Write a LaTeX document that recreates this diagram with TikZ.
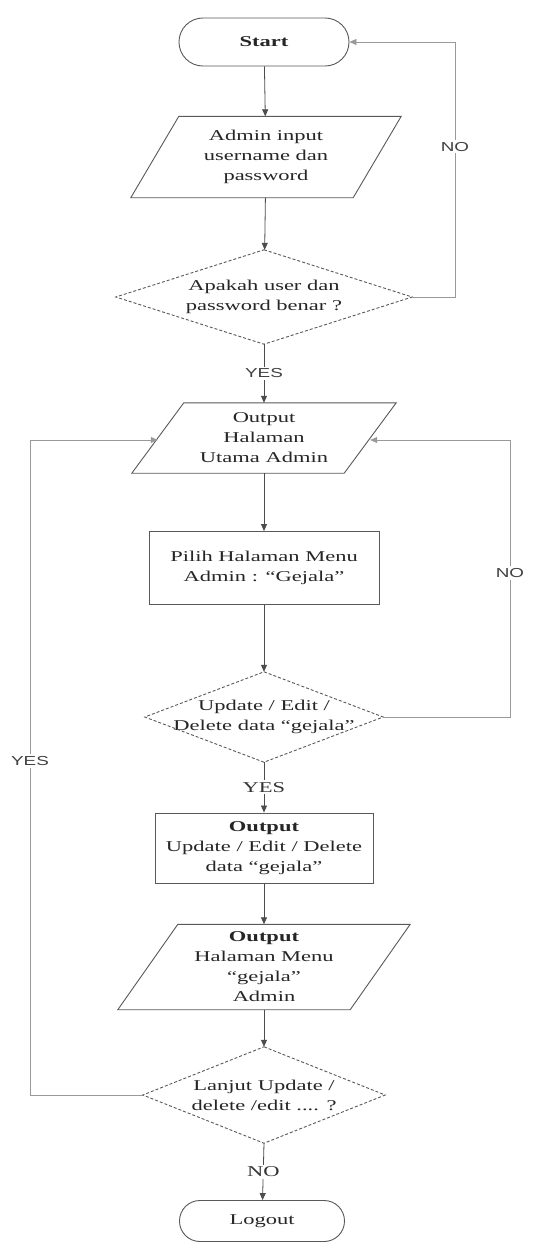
\documentclass[tikz,border=0pt]{standalone}
\usepackage{fontspec}
\setmainfont{Liberation Serif}[FakeStretch=1.5]
\setsansfont{Liberation Sans}[FakeStretch=1.45]
\usetikzlibrary{arrows.meta,calc}
\newcommand\drawpara[2]{%
  \draw[shapeline] ($(#1.north west)+(#2/2,0)$) -- ($(#1.north east)+(#2/2,0)$)
    -- ($(#1.south east)+(-#2/2,0)$) -- ($(#1.south west)+(-#2/2,0)$) -- cycle;}
\newcommand\drawdiam[1]{%
  \draw[shapeline,densely dashed] (#1.north) -- (#1.east) -- (#1.south) -- (#1.west) -- cycle;}
\begin{document}
\begin{tikzpicture}[x=1pt,y=-1pt,
  txt/.style={font=\fontsize{15}{20}\selectfont, text=black!85, align=center, inner sep=0pt, rectangle},
  shapeline/.style={draw=black!65, line width=0.9pt},
  boxnode/.style={txt, shapeline},
  termnode/.style={boxnode, rounded corners=23.9pt},
  arr/.style={draw=black!70, line width=0.8pt, -{Triangle[length=7pt,width=6pt]}},
  loopline/.style={draw=black!40, line width=0.7pt, -{Triangle[length=7pt,width=6pt]}},
  lab/.style={fill=white, inner sep=2pt, text=black!80, font=\fontsize{15}{18}\selectfont},
  slab/.style={fill=white, inner sep=2pt, text=black!75, font=\sffamily\fontsize{13}{15}\selectfont}
]
\useasboundingbox (0,0) rectangle (543,1243);
\fill[white] (0,0) rectangle (543,1243);

% nodes
\node[termnode, minimum width=170pt, minimum height=48pt] (start) at (264,42) {\textbf{Start}};
\node[txt, minimum width=222pt, minimum height=81pt] (in1) at (266,157) {Admin input\\username dan\\password};
\drawpara{in1}{48}
\node[txt, minimum width=296pt, minimum height=94pt] (d1) at (264,297) {Apakah user dan\\password benar ?};
\drawdiam{d1}
\node[txt, minimum width=212pt, minimum height=70pt] (p2) at (264,438) {Output\\Halaman\\Utama Admin};
\drawpara{p2}{52}
\node[boxnode, minimum width=230pt, minimum height=73pt] (r1) at (264,568) {Pilih Halaman Menu\\Admin : “Gejala”};
\node[txt, minimum width=238pt, minimum height=90pt] (d2) at (264,717) {Update / Edit /\\Delete data “gejala”};
\drawdiam{d2}
\node[boxnode, minimum width=218pt, minimum height=70pt] (r2) at (264,848) {\textbf{Output}\\Update / Edit / Delete\\data “gejala”};
\node[txt, minimum width=232pt, minimum height=85pt] (p3) at (264,967) {\textbf{Output}\\Halaman Menu\\“gejala”\\Admin};
\drawpara{p3}{60}
\node[txt, minimum width=242pt, minimum height=96pt] (d3) at (264,1095) {Lanjut Update /\\delete /edit .... ?};
\drawdiam{d3}
\node[termnode, rounded corners=20.4pt, minimum width=165pt, minimum height=41pt] (logout) at (262,1221) {Logout};

% coordinates for loops
\coordinate (n1a) at (455,297);
\coordinate (n1b) at (455,42);
\coordinate (n2a) at (510,717);
\coordinate (n2b) at (510,440);
\coordinate (y2a) at (30,1095);
\coordinate (y2b) at (30,440);
\coordinate (p2e) at ($(p2.east)+(0,2)$);
\coordinate (p2w) at ($(p2.west)+(0,2)$);

% main flow
\draw[arr] (start) -- (in1);
\draw[arr] (in1) -- (d1);
\draw[arr] (d1.south) -- node[slab]{YES} (p2.north);
\draw[arr] (p2) -- (r1);
\draw[arr] (r1) -- (d2.north);
\draw[arr] (d2.south) -- node[lab]{YES} (r2);
\draw[arr] (r2) -- (p3);
\draw[arr] (p3) -- (d3.north);
\draw[arr] (d3.south) -- node[lab]{NO} (logout);

% loops
\draw[loopline] (d1.east) -- (n1a) -- node[slab, pos=0.59]{NO} (n1b) -- (start.east);
\draw[loopline] (d2.east) -- (n2a) -- node[slab, pos=0.52]{NO} (n2b) -- (p2e);
\draw[loopline] (d3.west) -- (y2a) -- node[slab, pos=0.51]{YES} (y2b) -- (p2w);
\end{tikzpicture}
\end{document}
